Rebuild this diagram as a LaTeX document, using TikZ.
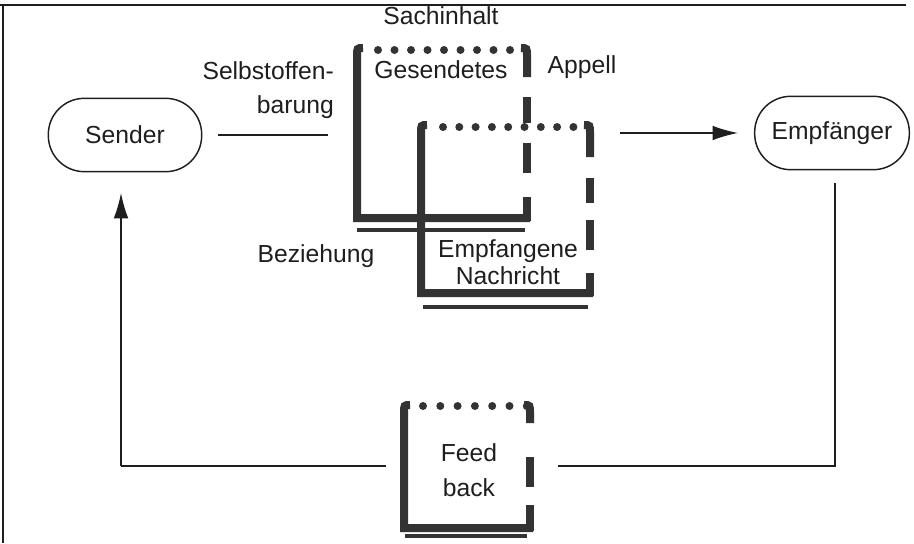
\documentclass[tikz,border=0pt]{standalone}
\usepackage{fontspec}
\setmainfont{Liberation Sans}
\usetikzlibrary{arrows.meta}
\definecolor{ink}{HTML}{1E1E1E}
\definecolor{barc}{HTML}{333333}
\newcommand\dfont{\fontsize{18.5}{24}\selectfont}
\tikzset{
  term/.style={draw=ink, line width=1.1pt, rounded corners=27pt, minimum width=115pt, minimum height=55pt, inner sep=0pt, font=\dfont, text=ink},
  lbl/.style={inner sep=0pt, font=\dfont, text=ink},
  conn/.style={draw=ink, line width=1.1pt},
  arr/.style={conn, -{Latex[length=19pt,width=11pt]}},
  thickbar/.style={draw=barc, line width=6pt, line cap=butt, line join=miter},
  thinrule/.style={draw=barc, line width=2.4pt},
  frameline/.style={draw=ink, line width=1.4pt}
}
\begin{document}
\begin{tikzpicture}[x=0.75pt,y=-0.75pt]
\useasboundingbox (0,0) rectangle (914,543);
% frame
\draw[frameline] (0,5) -- (906,5);
\draw[frameline] (3,5) -- (3,543);

% terminals
\node[term] (sender) at (125,135) {Sender};
\node[term, minimum width=116pt] (empf) at (832,133) {Empfänger};

% box 1: Gesendetes
\draw[thickbar] (363,48) .. controls (357,48) .. (357,56) -- (357,218) -- (530,218);
\draw[thinrule] (357,230) -- (525,230);
\foreach \i in {0,...,8} \fill[barc] (378+\i*16.5,50) circle (3pt);
\draw[thickbar] (521,48) .. controls (527,48) .. (527,56) -- (527,77);
\draw[thickbar] (527,97) -- (527,123);
\draw[thickbar] (527,143) -- (527,173);
\draw[thickbar] (527,197) -- (527,221);

% box 2: Empfangene Nachricht
\draw[thickbar] (427,125) .. controls (421,125) .. (421,133) -- (421,293) -- (593,293);
\draw[thinrule] (423,307) -- (588,307);
\foreach \i in {0,...,8} \fill[barc] (443+\i*16.3,127) circle (3pt);
\draw[thickbar] (584,125) .. controls (590,125) .. (590,133) -- (590,157);
\draw[thickbar] (590,178) -- (590,203);
\draw[thickbar] (590,220) -- (590,250);
\draw[thickbar] (590,273) -- (590,296);

% box 3: Feedback
\draw[thickbar] (410,405) .. controls (404,405) .. (404,413) -- (404,528) -- (533,528);
\draw[thinrule] (405,536) -- (527,536);
\foreach \i in {0,...,6} \fill[barc] (423+\i*17.3,406) circle (3pt);
\draw[thickbar] (524,405) .. controls (530,405) .. (530,413) -- (530,423);
\draw[thickbar] (530,457) -- (530,487);
\draw[thickbar] (530,505) -- (530,531);

% labels
\node[lbl] (sach) at (441,16) {Sachinhalt};
\node[lbl] (ges) at (441,70) {Gesendetes};
\node[lbl] (app) at (582,67) {Appell};
\node[lbl, align=right, anchor=east, font=\fontsize{18.5}{25.5}\selectfont] (selbst) at (334,90) {Selbstoffen-\\barung};
\node[lbl] (bez) at (316,256) {Beziehung};
\node[lbl, align=center, font=\fontsize{18.5}{20.5}\selectfont] (empfn) at (508,262) {Empfangene\\Nachricht};
\node[lbl, align=center, font=\fontsize{18.5}{26}\selectfont] (feed) at (469,470) {Feed\\back};

% connectors
\coordinate (s1) at (218,135);
\coordinate (s2) at (328,135);
\draw[conn] (s1) -- (s2);
\coordinate (a1) at (620,133);
\draw[arr, shorten >=12pt] (a1) -- (empf.west);
\coordinate (e1) at (835,183);
\coordinate (e2) at (835,466);
\coordinate (e3) at (558,466);
\draw[conn] (e1) -- (e2) -- (e3);
\coordinate (f1) at (386,466);
\coordinate (f2) at (121,466);
\coordinate (f3) at (121,193);
\draw[conn] (f1) -- (f2);
\draw[arr] (f2) -- (f3);
\end{tikzpicture}
\end{document}
